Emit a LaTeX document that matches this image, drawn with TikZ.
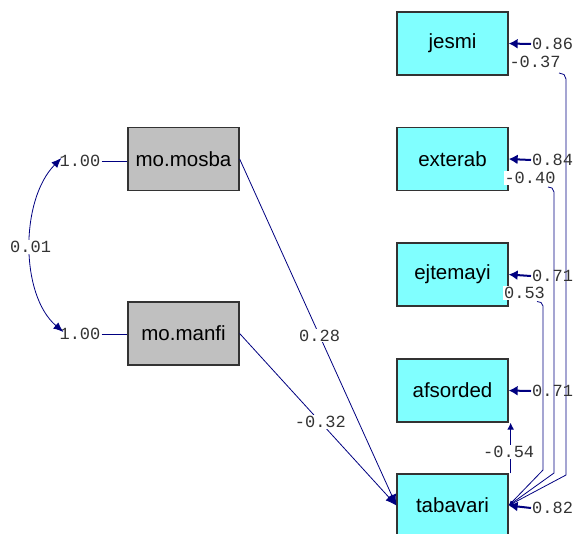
\documentclass[tikz,border=0pt]{standalone}
\usepackage{fontspec}
\setmainfont{Liberation Sans}
\newfontfamily\numfont{Liberation Mono}
\usetikzlibrary{arrows.meta,calc}
\definecolor{boxcyan}{HTML}{80FFFF}
\definecolor{boxgray}{HTML}{C0C0C0}
\definecolor{pathblue}{HTML}{000080}
\begin{document}
\begin{tikzpicture}[x=1pt,y=-1pt,
 obsbox/.style={draw=black!80,line width=1.3pt,minimum width=111pt,minimum height=63pt,inner sep=0pt,font=\fontsize{20.5}{24}\selectfont},
 cyanbox/.style={obsbox,fill=boxcyan},
 graybox/.style={obsbox,fill=boxgray},
 conn/.style={draw=pathblue,line width=0.8pt},
 arr/.style={conn,-{Latex[length=11pt,width=9pt]}},
 errarr/.style={conn,line width=2pt,-{Latex[length=9pt,width=10pt]}},
 corr/.style={conn,{Latex[length=5pt,width=4pt]}-},
 numlab/.style={font=\numfont\fontsize{17}{20}\selectfont,inner sep=1pt,text=black!80},
 wlab/.style={numlab,fill=white},
]
\clip (0,0) rectangle (580,533);
% observed variables
\node[cyanbox] (jesmi) at (452.5,43.5) {jesmi};
\node[cyanbox] (exterab) at (452.5,159) {exterab};
\node[cyanbox] (ejtemayi) at (452.5,274.5) {ejtemayi};
\node[cyanbox] (afsorded) at (452.5,390.5) {afsorded};
\node[cyanbox] (tabavari) at (452.5,505.5) {tabavari};
\node[graybox] (mosba) at (183.5,159) {mo.mosba};
\node[graybox] (manfi) at (183.5,333.5) {mo.manfi};
% correlated errors
\draw[corr] (tabavari.east) -- (566,475) -- (566,79) -- (564,74.5) -- (559,73);
\draw[corr] (tabavari.east) -- (554,473) -- (554,192) -- (552,188) -- (548,187);
\draw[corr] (tabavari.east) -- (543,470) -- (543,306) -- (541,302.5) -- (537,301.5);
% error variance labels and arrows
\node[numlab,anchor=west] (ej) at (531,44) {0.86};
\node[numlab,anchor=west] (ee) at (531,160) {0.84};
\node[numlab,anchor=west] (ey) at (531,276) {0.71};
\node[numlab,anchor=west] (ea) at (531,391) {0.71};
\node[numlab,anchor=west] (et) at (531,508) {0.82};
\draw[errarr] (ej.west) -- (jesmi.east);
\draw[errarr] (ee.west) -- (exterab.east);
\draw[errarr] (ey.west) -- (ejtemayi.east);
\draw[errarr] (ea.west) -- (afsorded.east);
\draw[errarr] (et.west) -- (tabavari.east);
% correlation labels
\node[wlab] (cj) at (535,62) {-0.37};
\node[wlab] (ce) at (530,178) {-0.40};
\node[wlab] (cy) at (524.5,293) {0.53};
% tabavari -> afsorded
\draw[conn,line width=1.2pt,-{Latex[length=7pt,width=7pt]}] ($(tabavari.north east)+(2,0)$) -- ($(afsorded.south east)+(2,0)$)
  node[wlab,pos=0.42,xshift=-2pt] {-0.54};
% exogenous variables
\node[numlab] (l1) at (80,161) {1.00};
\node[numlab] (l2) at (80,334) {1.00};
\draw[conn] (l1.east) -- (l1.east -| mosba.west);
\draw[conn] (l2.east) -- (l2.east -| manfi.west);
\draw[conn,{Latex[length=10pt,width=8pt]}-{Latex[length=10pt,width=8pt]}]
  ($(l1.west)+(3,-3)$) .. controls (20,200) and (20,295) .. ($(l2.west)+(5,-2)$)
  node[wlab,pos=0.5] {0.01};
% paths
\draw[arr] (mosba.east) -- (tabavari.west) node[wlab,pos=0.51] {0.28};
\draw[arr] (manfi.east) -- (tabavari.west) node[wlab,pos=0.515] {-0.32};
\end{tikzpicture}
\end{document}
